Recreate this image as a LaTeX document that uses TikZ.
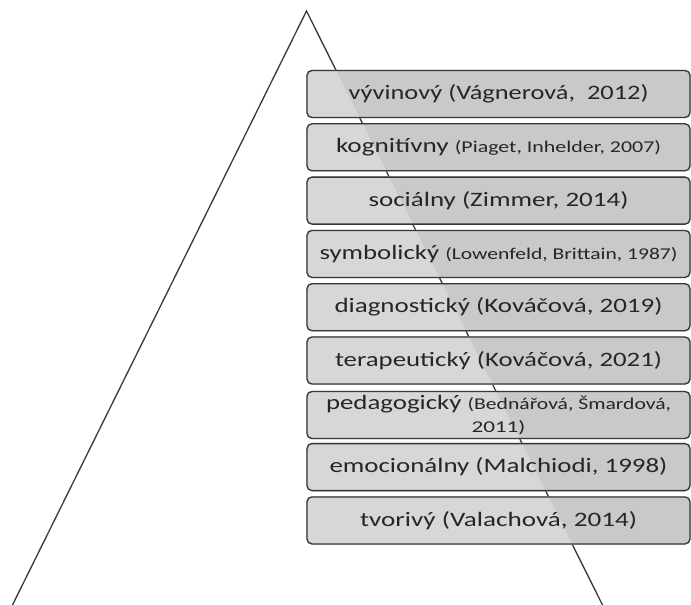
\documentclass[tikz,border=0pt]{standalone}
\usepackage{fontspec}
\usepackage{graphicx}
\setmainfont{Carlito}
\definecolor{boxout}{HTML}{C9C9C9}
\definecolor{boxin}{HTML}{D7D7D7}
\definecolor{edge}{HTML}{383838}
\definecolor{txt}{HTML}{262626}
\newcommand\bigtxt{\fontsize{20.5}{24}\selectfont}
\newcommand\smtxt{\fontsize{16.5}{18}\selectfont}
\newlength\fitw
\newcommand\fitto[2]{\settowidth\fitw{#2}\pgfmathsetmacro\fitsx{#1/\fitw}\scalebox{\fitsx}[1]{#2}}
\pgfdeclarelayer{back}
\pgfsetlayers{back,main}
\begin{document}
\begin{tikzpicture}[x=1pt,y=-1pt,
  box/.style={rounded corners=5pt, draw=edge, line width=1.3pt,
    minimum width=383pt, minimum height=47pt, inner sep=0pt,
    text=txt, align=center, font=\bigtxt},
  side/.style={draw=edge, line width=1.3pt}]
\useasboundingbox (0,0) rectangle (691,605);
\coordinate (apex) at (306.5,11);
\coordinate (bl) at (12,606);
\coordinate (br) at (603,606);

\node[box] (b1) at (498.5,94.0) {\fitto{300}{vývinový (Vágnerová,\ \ 2012)}};
\node[box] (b2) at (498.5,147.3) {\fitto{325}{kognitívny {\smtxt(Piaget, Inhelder, 2007)}}};
\node[box] (b3) at (498.5,200.6) {\fitto{260}{sociálny (Zimmer, 2014)}};
\node[box] (b4) at (498.5,253.9) {\fitto{358}{symbolický {\smtxt(Lowenfeld, Brittain, 1987)}}};
\node[box] (b5) at (498.5,307.2) {\fitto{328}{diagnostický (Kováčová, 2019)}};
\node[box] (b6) at (498.5,360.5) {\fitto{327}{terapeutický (Kováčová, 2021)}};
\node[box, font=\fontsize{20.5}{25}\selectfont] (b7) at (498.5,415.0) {\fitto{345}{pedagogický {\smtxt(Bednářová, Šmardová,}}\\[-2pt]\fitto{54}{\smtxt 2011)}};
\node[box] (b8) at (498.5,467.1) {\fitto{338}{emocionálny (Malchiodi, 1998)}};
\node[box] (b9) at (498.5,520.4) {\fitto{277}{tvorivý (Valachová, 2014)}};

\begin{pgfonlayer}{back}
  \draw[side] (bl) -- (apex) -- (br);
  \foreach \b in {b1,b2,b3,b4,b5,b6,b7,b8,b9}{
    \fill[boxout, rounded corners=5pt] (\b.north west) rectangle (\b.south east);
  }
  \begin{scope}
    \clip (bl) -- (apex) -- (br) -- cycle;
    \foreach \b in {b1,b2,b3,b4,b5,b6,b7,b8,b9}{
      \fill[boxin, rounded corners=5pt] (\b.north west) rectangle (\b.south east);
    }
  \end{scope}
\end{pgfonlayer}
\end{tikzpicture}
\end{document}
